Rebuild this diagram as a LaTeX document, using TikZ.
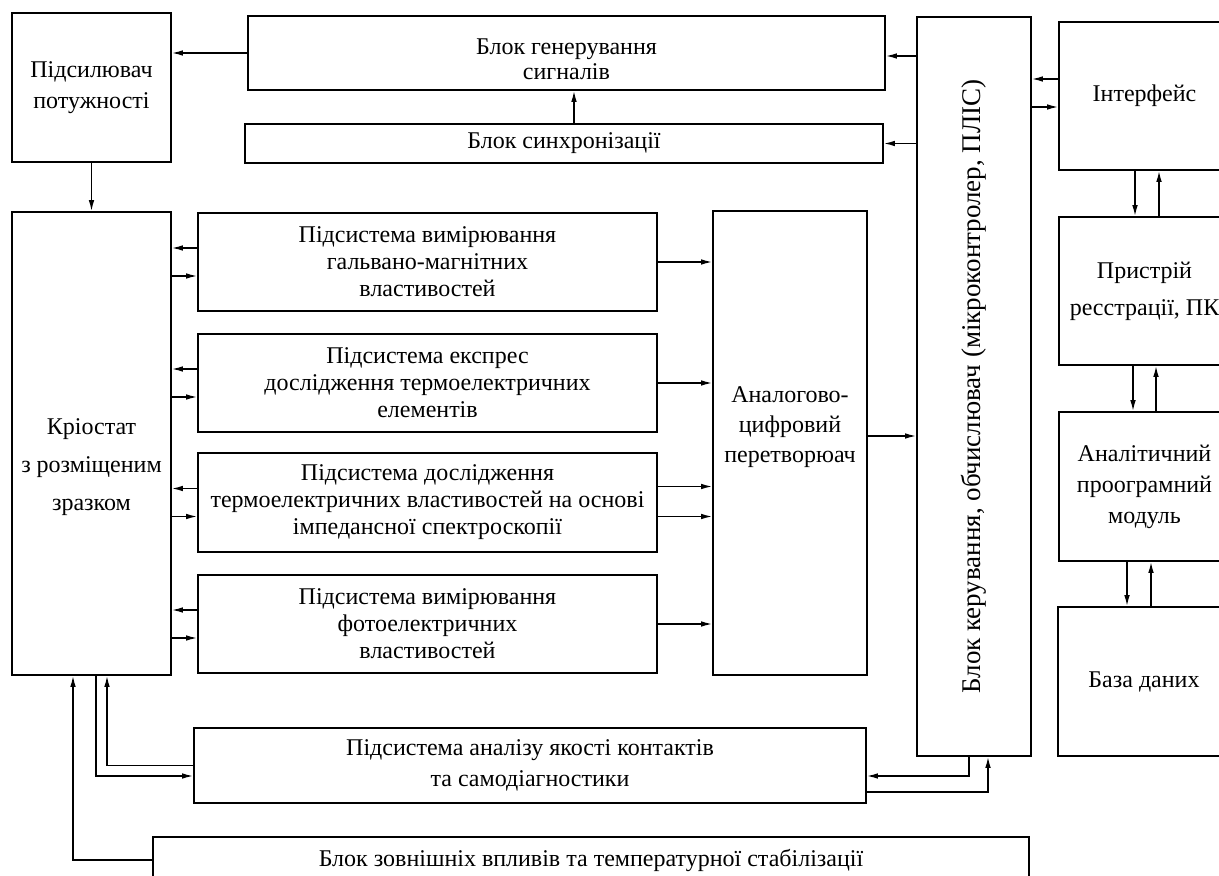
\documentclass[tikz,border=0pt]{standalone}
\usepackage{fontspec}
\setmainfont{Liberation Serif}
\usetikzlibrary{positioning, calc, arrows.meta}

\tikzset{
  blk/.style={draw, line width=0.9pt, inner sep=2pt, align=center,
              font=\fontsize{12}{13.5}\selectfont},
  txt/.style={align=center, font=\fontsize{12}{13.5}\selectfont},
  sz/.style 2 args={minimum width=#1*0.5pt, minimum height=#2*0.5pt},
  arr/.style={line width=0.7pt, -{Latex[length=5.5pt, width=2.8pt]}}
}

\begin{document}
\begin{tikzpicture}[x=0.5pt, y=-0.5pt]
    \useasboundingbox (0,0) rectangle (1219,876);

    % upper row
    \node[blk, sz={159}{149}] (amp) at (91.5,87.5)
         {Підсилювач\\[2pt]потужності};
    \node[blk, sz={637}{74},
          label={[txt, yshift=-3pt]center:Блок генерування\\[-1pt]сигналів}]
         (gen) at (566.5,53) {};
    \node[blk, sz={638}{39}] (sync) at (564,143.5) {Блок синхронізації};
    \node[blk, sz={114}{739}, font=\fontsize{13.5}{15}\selectfont] (ctrl) at (974,386.5)
         {\rotatebox{90}{Блок керування, обчислювач (мікроконтролер, ПЛІС)}};

    % right column
    \node[blk, sz={171}{148}] (iface) at (1144.5,96) {Інтерфейс};
    \node[blk, sz={171}{148}] (reg) at (1144.5,291)
         {Пристрій\\[5pt]ресстрації, ПК};
    \node[blk, sz={171}{149}] (anal) at (1144.5,486.5)
         {Аналітичний\\[2pt]проограмний\\[2pt]модуль};
    \node[blk, sz={172}{149}] (db) at (1144,681.5) {База даних};

    % cryostat and measuring subsystems
    \node[blk, sz={159}{463},
          label={[txt, yshift=-11.75pt]center:Кріостат\\[5.5pt]з розміщеним\\[5.5pt]зразком}]
         (kr) at (91.5,443.5) {};
    \node[blk, sz={459}{98}] (galv) at (427.5,262)
         {Підсистема вимірювання\\гальвано-магнітних\\властивостей};
    \node[blk, sz={459}{98}] (expr) at (427.5,383)
         {Підсистема експрес\\дослідження термоелектричних\\елементів};
    \node[blk, sz={459}{99}] (imp) at (427.5,502.5)
         {Підсистема дослідження\\термоелектричних властивостей на основі\\імпедансної спектроскопії};
    \node[blk, sz={459}{98}] (photo) at (427.5,624)
         {Підсистема вимірювання\\фотоелектричних\\властивостей};
    \node[blk, sz={154}{464},
          label={[txt, yshift=8pt]center:Аналогово-\\[1.5pt]цифровий\\[1.5pt]перетворюач}]
         (adc) at (790,443) {};

    % bottom
    \node[blk, sz={672}{75}] (qual) at (530,765.5)
         {Підсистема аналізу якості контактів\\[2pt]та самодіагностики};
    \node[blk, sz={876}{46}] (ext) at (591,860)
         {Блок зовнішніх впливів та температурної стабілізації};

    % connections
    \draw[arr] (gen.west) -- (amp.east |- gen.west);
    \draw[arr] (sync.north -| 574,0) -- (gen.south -| 574,0);
    \draw[arr] (ctrl.west |- 0,56) -- (gen.east |- 0,56);
    \draw[arr] (ctrl.west |- sync.east) -- (sync.east);
    \draw[arr] (amp.south) -- (kr.north);

    \draw[arr] (iface.west |- 0,79) -- (ctrl.east |- 0,79);
    \draw[arr] (ctrl.east |- 0,107) -- (iface.west |- 0,107);
    \draw[arr] (iface.south -| 1135,0) -- (reg.north -| 1135,0);
    \draw[arr] (reg.north -| 1159,0) -- (iface.south -| 1159,0);
    \draw[arr] (reg.south -| 1133,0) -- (anal.north -| 1133,0);
    \draw[arr] (anal.north -| 1156,0) -- (reg.south -| 1156,0);
    \draw[arr] (anal.south -| 1127,0) -- (db.north -| 1127,0);
    \draw[arr] (db.north -| 1151,0) -- (anal.south -| 1151,0);

    \foreach \s in {galv, expr, imp, photo} {
      \draw[arr] ($(\s.west)+(0,-14)$) -- ($(kr.east |- \s.west)+(0,-14)$);
      \draw[arr] ($(kr.east |- \s.west)+(0,14)$) -- ($(\s.west)+(0,14)$);
    }
    \foreach \s in {galv, expr, photo}
      \draw[arr] (\s.east) -- (adc.west |- \s.east);
    \draw[arr] ($(imp.east)+(0,-16)$) -- ($(adc.west |- imp.east)+(0,-16)$);
    \draw[arr] ($(imp.east)+(0,14)$) -- ($(adc.west |- imp.east)+(0,14)$);
    \draw[arr] ($(adc.east)+(0,-7)$) -- ($(ctrl.west |- adc.east)+(0,-7)$);

    \draw[arr] (kr.south -| 96,0) |- ($(qual.west)+(0,10.5)$);
    \draw[arr] (qual.west) -| (kr.south -| 107,0);
    \draw[arr] (ctrl.south -| 969,0) |- ($(qual.east)+(0,10.5)$);
    \draw[arr] ($(qual.east)+(0,26.5)$) -| (ctrl.south -| 988,0);
    \draw[arr] (ext.west) -| (kr.south -| 73,0);
\end{tikzpicture}
\end{document}
